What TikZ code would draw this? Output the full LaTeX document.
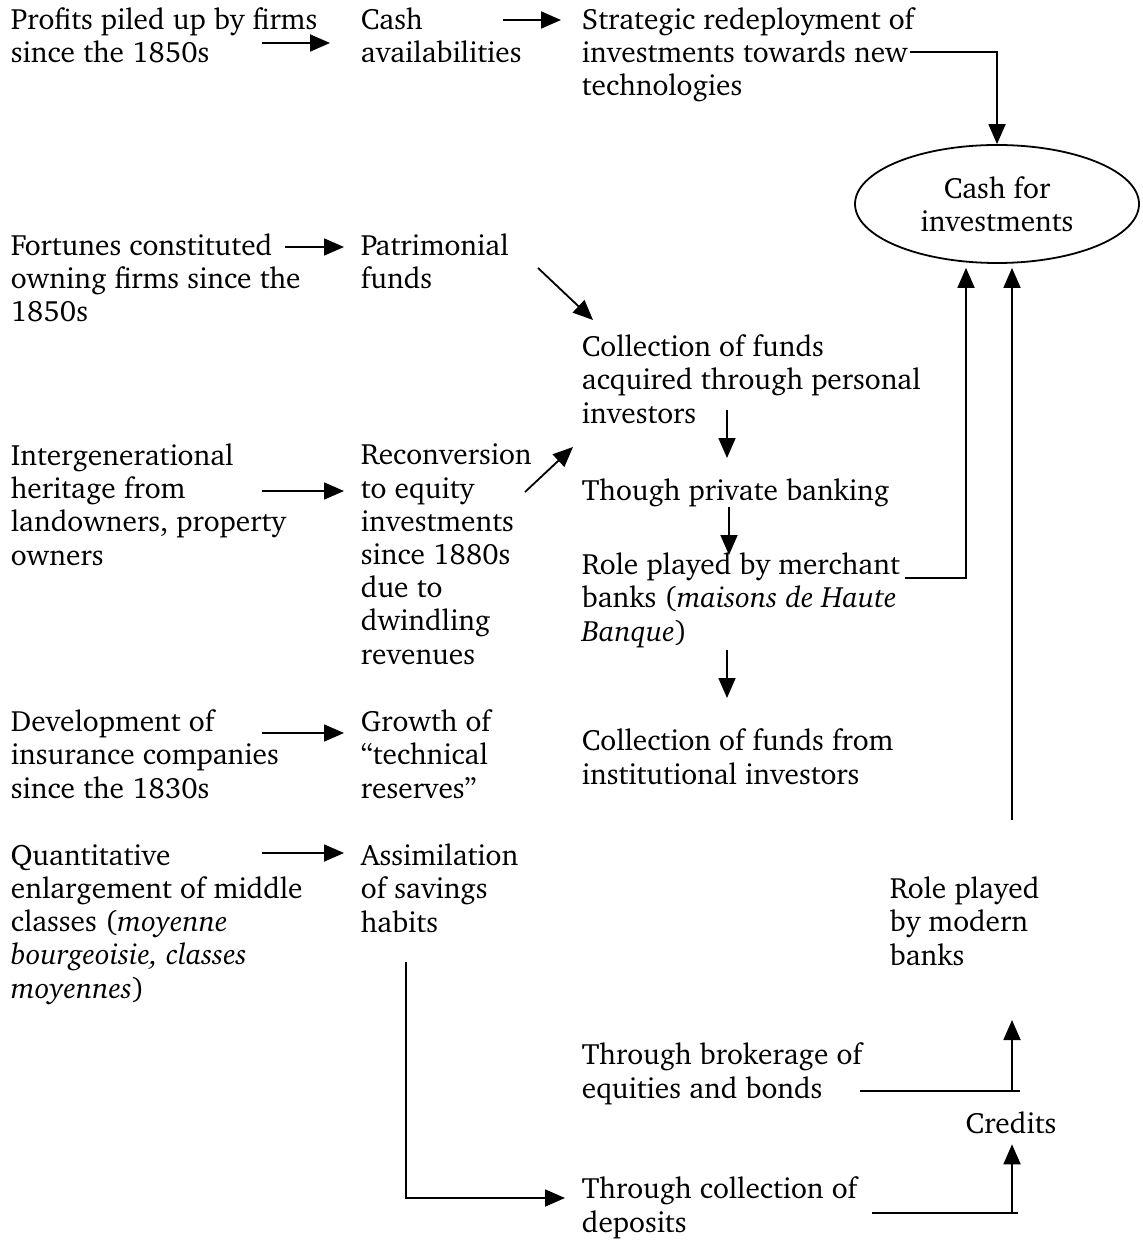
\documentclass[tikz,border=0pt]{standalone}
\usepackage[T1]{fontenc}
\usepackage{charter}
\usetikzlibrary{arrows.meta,positioning,shapes.geometric}

\begin{document}
\begin{tikzpicture}[
            x=0.5pt, y=-0.5pt,
            >={Triangle[length=10pt,width=8.5pt]},
            line width=0.9pt,
            txt/.style={anchor=base west, align=left, inner sep=0pt,
                font=\fontsize{14.7}{16.6}\selectfont},
            oval/.style={ellipse, draw, minimum width=142pt, minimum height=59pt,
                align=center, inner sep=0pt, font=\fontsize{14.7}{16.6}\selectfont}
        ]
        \useasboundingbox (0,0) rectangle (1142,1240);

        % Origins (placed at the baseline of their last line)
        \node[txt] (profits) at (10,63) {Profits piled up by firms\\since the 1850s};
        \node[txt] (fortunes) at (10,322) {Fortunes constituted\\owning firms since the\\1850s};
        \node[txt] (heritage) at (10,565) {Intergenerational\\heritage from\\landowners, property\\owners};
        \node[txt] (insurance) at (10,798) {Development of\\insurance companies\\since the 1830s};
        \node[txt] (middle) at (10,998) {Quantitative\\enlargement of middle\\classes (\textit{moyenne}\\\textit{bourgeoisie, classes}\\\textit{moyennes})};

        % Resources
        \node[txt] (cash) at (360,63) {Cash\\availabilities};
        \node[txt] (patrimonial) at (360,289) {Patrimonial\\funds};
        \node[txt] (reconversion) at (360,664) {Reconversion\\to equity\\investments\\since 1880s\\due to\\dwindling\\revenues};
        \node[txt] (reserves) at (360,798) {Growth of\\``technical\\reserves''};
        \node[txt] (savings) at (360,932) {Assimilation\\of savings\\habits};

        % Channels
        \node[txt] (strategic) at (581,96) {Strategic redeployment of\\investments towards new\\technologies};
        \node[txt] (personal) at (581,423) {Collection of funds\\acquired through personal\\investors};
        \node[txt] (private) at (581,500) {Though private banking};
        \node[txt] (merchant) at (581,641) {Role played by merchant\\banks (\textit{maisons de Haute}\\\textit{Banque})};
        \node[txt] (institutional) at (581,784) {Collection of funds from\\institutional investors};
        \node[txt] (brokerage) at (581,1098) {Through brokerage of\\equities and bonds};
        \node[txt] (deposits) at (581,1232) {Through collection of\\deposits};

        % Banks and target
        \node[oval] (cashinv) at (997,204) {Cash for\\investments};
        \node[txt] (modern) at (889,965) {Role played\\by modern\\banks};
        \node[anchor=base, inner sep=0pt, font=\fontsize{14.7}{16.6}\selectfont] (credits) at (1011,1133) {Credits};

        % Tails of the connectors
        \coordinate (tprofits) at (262,43);
        \coordinate (tcash) at (503,20);
        \coordinate (tnew) at (910,52);
        \coordinate (tfortunes) at (285,247);
        \coordinate (tpatri) at (538,268);
        \coordinate (theritage) at (262,491);
        \coordinate (treconv) at (525,492);
        \coordinate (tpersonal) at (727,410);
        \coordinate (tprivate) at (729,507);
        \coordinate (tmerchant) at (905,578);
        \coordinate (trole) at (727,650);
        \coordinate (tinsurance) at (262,733);
        \coordinate (tmiddle) at (262,853);
        \coordinate (tsavings) at (406,962);
        \coordinate (tmodern) at (1012,820);
        \coordinate (tbroker) at (860,1091);
        \coordinate (tdeposit) at (872,1213);

        % Draw transitions
        \draw[->, shorten >=15pt] (tprofits) -- (tprofits -| cash.west);
        \draw[->, shorten >=10pt] (tcash) -- (tcash -| strategic.west);
        \draw[->] (tnew) -| (cashinv.north);
        \draw[->, shorten >=8pt] (tfortunes) -- (tfortunes -| patrimonial.west);
        \draw[->] (tpatri) -- ++(55,52);
        \draw[->, shorten >=8pt] (theritage) -- (theritage -| reconversion.west);
        \draw[->] (treconv) -- ++(48,-45);
        \draw[->] (tpersonal) -- ++(0,48);
        \draw[->] (tprivate) -- ++(0,48);
        \draw[->] (tmerchant) -| ([xshift=-15.5pt,yshift=-2pt]cashinv.south);
        \draw[->] (trole) -- ++(0,48);
        \draw[->, shorten >=8pt] (tinsurance) -- (tinsurance -| reserves.west);
        \draw[->, shorten >=8pt] (tmiddle) -- (tmiddle -| savings.west);
        \draw[->, shorten >=8pt] (tsavings) |- (deposits.west |- 0,1198);
        \draw[->] (tmodern) -- ([xshift=7.5pt,yshift=-2pt]cashinv.south);
        \draw (tbroker) -- ++(160,0);
        \draw[->] (tbroker -| tmodern) -- ++(0,-71);
        \draw (tdeposit) -- ++(146,0);
        \draw[->, shorten >=5pt] (tdeposit -| tmodern) -- (tmodern |- credits.south);
        \end{tikzpicture}
\end{document}
